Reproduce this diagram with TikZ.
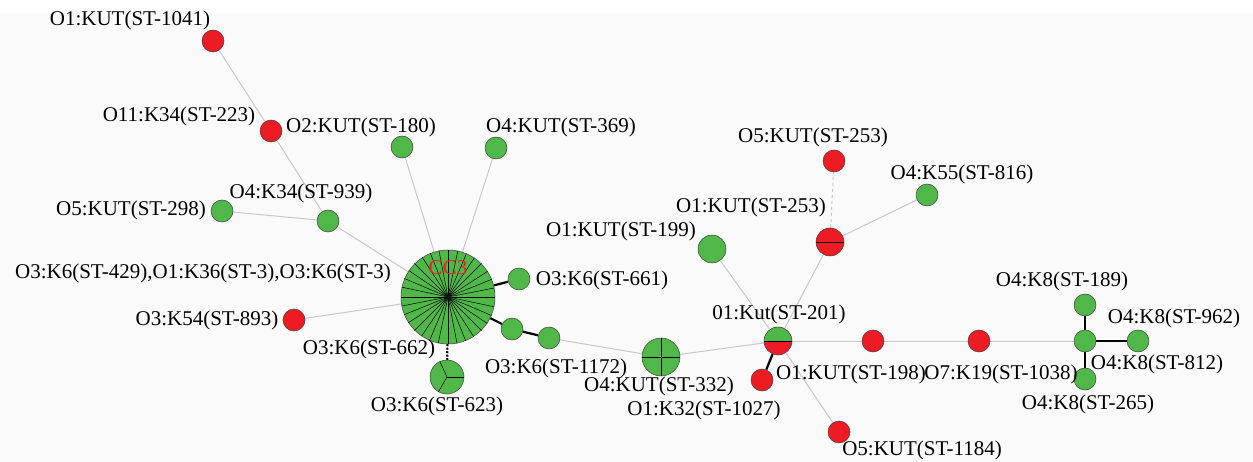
\documentclass[tikz,border=0pt]{standalone}
\usepackage{fontspec}
\setmainfont{Liberation Serif}
\usepackage{tikz}
\usetikzlibrary{backgrounds}
\definecolor{stred}{RGB}{237, 28, 36}
\definecolor{stgreen}{RGB}{80, 184, 72}
\definecolor{bgcolor}{RGB}{250, 250, 250}
\definecolor{linkgray}{RGB}{200, 200, 200}

\begin{document}
\begin{tikzpicture}[x=1pt, y=-1pt,
    st/.style={circle, draw=black!75, line width=0.5pt, minimum size=22pt, inner sep=0pt},
    redst/.style={st, fill=stred},
    greenst/.style={st, fill=stgreen},
    halfst/.style={st, fill=stred, path picture={\fill[stgreen] (path picture bounding box.west) rectangle (path picture bounding box.north east);}},
    lbl/.style={font=\fontsize{21}{24}\selectfont, inner sep=0pt},
    spoke/.style={black, line width=0.5pt},
    link/.style={linkgray, line width=1pt},
    strong/.style={black, line width=2.2pt},
]
    \useasboundingbox (0,0) rectangle (1253,462);

    % Nodes (left cluster)
    \node[redst] (n1041) at (213, 41) {};
    \node[redst] (n223) at (271, 131) {};
    \node[greenst] (n180) at (402, 147) {};
    \node[greenst] (n369) at (496, 148) {};
    \node[greenst] (n298) at (222, 211) {};
    \node[greenst] (n939) at (328, 221) {};
    \node[st, fill=stgreen, minimum size=94pt] (cc3) at (448, 297) {};
    \node[greenst] (n661) at (519, 279) {};
    \node[redst] (n893) at (294, 320) {};
    \node[greenst] (n662) at (512, 329) {};
    \node[greenst] (n1172) at (549, 338) {};
    \node[greenst, minimum size=34pt] (n623) at (447, 377) {};
    \node[greenst, minimum size=38pt] (n332) at (661, 357) {};

    % Nodes (right cluster)
    \node[halfst, minimum size=28pt] (n201) at (778, 341) {};
    \node[redst] (n1027) at (762, 380) {};
    \node[redst] (n198) at (873, 341) {};
    \node[redst] (n1184) at (839, 432) {};
    \node[redst, minimum size=28pt] (n253b) at (830, 242) {};
    \node[redst] (n253) at (834, 161) {};
    \node[greenst] (n816) at (927, 195) {};
    \node[greenst, minimum size=28pt] (n199) at (712, 249) {};
    \node[redst] (n1038) at (979, 341) {};
    \node[greenst] (n189) at (1085, 305) {};
    \node[greenst] (n812) at (1085, 341) {};
    \node[greenst] (n962) at (1138, 341) {};
    \node[greenst] (n265) at (1085, 379) {};

    % Sectors
    \foreach \a in {0,11.25,...,349} \draw[spoke] (cc3.center) -- (cc3.\a);
    \foreach \a in {0,115,240} \draw[spoke] (n623.center) -- (n623.\a);
    \foreach \a in {0,90,180,270} \draw[spoke] (n332.center) -- (n332.\a);
    \draw[spoke] (n201.west) -- (n201.east);
    \draw[spoke] (n253b.west) -- (n253b.east);

    % Labels
    \node[lbl, text=stred] (tcc3) at (448, 268) {CC3};
    \node[lbl] (t1041) at (130, 20) {O1:KUT(ST-1041)};
    \node[lbl] (t223) at (179, 116) {O11:K34(ST-223)};
    \node[lbl] (t180) at (361, 127) {O2:KUT(ST-180)};
    \node[lbl] (t369) at (561, 127) {O4:KUT(ST-369)};
    \node[lbl] (t298) at (131, 210) {O5:KUT(ST-298)};
    \node[lbl] (t939) at (301, 193) {O4:K34(ST-939)};
    \node[lbl] (tcc3st) at (203, 273) {O3:K6(ST-429),O1:K36(ST-3),O3:K6(ST-3)};
    \node[lbl] (t661) at (602, 280) {O3:K6(ST-661)};
    \node[lbl] (t893) at (207, 320) {O3:K54(ST-893)};
    \node[lbl] (t662) at (369, 349) {O3:K6(ST-662)};
    \node[lbl] (t1172) at (556, 368) {O3:K6(ST-1172)};
    \node[lbl] (t623) at (437, 406) {O3:K6(ST-623)};
    \node[lbl] (t332) at (659, 386) {O4:KUT(ST-332)};
    \node[lbl] (t201) at (779, 314) {01:Kut(ST-201)};
    \node[lbl] (t1027) at (704, 410) {O1:K32(ST-1027)};
    \node[lbl] (t198) at (851, 374) {O1:KUT(ST-198)};
    \node[lbl] (t1184) at (922, 450) {O5:KUT(ST-1184)};
    \node[lbl] (t253b) at (751, 207) {O1:KUT(ST-253)};
    \node[lbl] (t253) at (813, 137) {O5:KUT(ST-253)};
    \node[lbl] (t816) at (962, 174) {O4:K55(ST-816)};
    \node[lbl] (t199) at (621, 231) {O1:KUT(ST-199)};
    \node[lbl] (t1038) at (1001, 374) {O7:K19(ST-1038)};
    \node[lbl] (t189) at (1062, 281) {O4:K8(ST-189)};
    \node[lbl] (t962) at (1174, 318) {O4:K8(ST-962)};
    \node[lbl] (t812) at (1157, 364) {O4:K8(ST-812)};
    \node[lbl] (t265) at (1088, 404) {O4:K8(ST-265)};

    \begin{scope}[on background layer]
        \fill[white] (0,0) rectangle (1253,13);
        \fill[bgcolor] (0,13) rectangle (1253,462);
        % Links
        \draw[link] (n1041) -- (n223);
        \draw[link] (n223) -- (n939);
        \draw[link] (n298) -- (n939);
        \draw[link] (n939) -- (cc3);
        \draw[link] (n180) -- (cc3);
        \draw[link] (n369) -- (cc3);
        \draw[link] (n893) -- (cc3);
        \draw[strong] (cc3) -- (n661);
        \draw[strong] (cc3) -- (n662);
        \draw[strong] (n662) -- (n1172);
        \draw[strong, dash pattern=on 2pt off 1.5pt] (cc3) -- (n623);
        \draw[link] (n1172) -- (n332);
        \draw[link] (n332) -- (n201);
        \draw[link] (n201) -- (n199);
        \draw[link] (n201) -- (n253b);
        \draw[link, dashed] (n253b) -- (n253);
        \draw[link] (n253b) -- (n816);
        \draw[strong] (n201) -- (n1027);
        \draw[link] (n201) -- (n1184);
        \draw[link] (n201) -- (n198);
        \draw[link] (n198) -- (n1038);
        \draw[link] (n1038) -- (n812);
        \draw[strong] (n812) -- (n189);
        \draw[strong] (n812) -- (n265);
        \draw[black, line width=1.2pt] (n812) -- (n962);
    \end{scope}
\end{tikzpicture}
\end{document}
